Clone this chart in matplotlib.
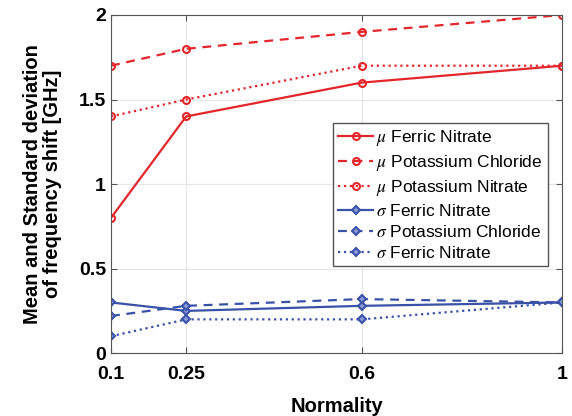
import matplotlib
matplotlib.use("Agg")
import matplotlib.pyplot as plt

plt.rcParams['font.family'] = ['Liberation Sans', 'DejaVu Sans']
plt.rcParams['mathtext.fontset'] = 'stix'

normality = [0.1, 0.25, 0.6, 1]

# mean values
mu_ferric = [0.8, 1.4, 1.6, 1.7]
mu_kcl = [1.7, 1.8, 1.9, 2.0]
mu_kno3 = [1.4, 1.5, 1.7, 1.7]

# standard deviations
sd_ferric = [0.3, 0.25, 0.28, 0.3]
sd_kcl = [0.22, 0.28, 0.32, 0.3]
sd_kno3 = [0.1, 0.2, 0.2, 0.3]

labels = [r"$\mu$ Ferric Nitrate", r"$\mu$ Potassium Chloride", r"$\mu$ Potassium Nitrate",
          r"$\sigma$ Ferric Nitrate", r"$\sigma$ Potassium Chloride", r"$\sigma$ Ferric Nitrate"]

RED = "#e3262b"
BLUE = "#3a51a8"

fig = plt.figure(figsize=(5.72, 4.16), dpi=100)
ax = fig.add_axes([0.194, 0.151, 0.789, 0.813])

styles = ['-', (0, (4, 3)), ':']
for ys, ls, lab in zip([mu_ferric, mu_kcl, mu_kno3], styles, labels[:3]):
    ax.plot(normality, ys, color=RED, ls=ls, lw=1.6, marker='o', ms=5,
            mfc='none', mec=RED, mew=1.5, label=lab)
for ys, ls, lab in zip([sd_ferric, sd_kcl, sd_kno3], styles, labels[3:]):
    ax.plot(normality, ys, color=BLUE, ls=ls, lw=1.6, marker='D', ms=4.5,
            mfc='#8a9ad6', mec=BLUE, mew=1.5, label=lab)

ax.set_xlim(0.1, 1)
ax.set_ylim(0, 2)
ax.set_xticks(normality)
ax.set_xticklabels(['0.1', '0.25', '0.6', '1'])
ax.set_yticks([0, 0.5, 1, 1.5, 2])
ax.set_yticklabels(['0', '0.5', '1', '1.5', '2'])
ax.grid(True, color='#e6e6e6', lw=0.8)
ax.set_axisbelow(True)
ax.tick_params(labelsize=14, direction='in', length=4, color='#555555',
               top=True, right=True)
ax.tick_params(axis='x', pad=9)
for t in ax.get_xticklabels() + ax.get_yticklabels():
    t.set_fontweight('bold')
for s in ax.spines.values():
    s.set_color('#555555')

ax.set_xlabel("Normality", fontsize=14.5, fontweight='bold', labelpad=10)
ax.set_ylabel("Mean and Standard deviation\nof frequency shift [GHz]", fontsize=14.5,
              fontweight='bold', linespacing=1.05, labelpad=12)

leg = ax.legend(loc='upper left', bbox_to_anchor=(0.492, 0.68), fontsize=12.5,
                handlelength=2.0, handletextpad=0.2, labelspacing=0.28,
                borderpad=0.3, borderaxespad=0, fancybox=False, framealpha=1)
leg.get_frame().set_edgecolor('#555555')

fig.savefig("out.png", dpi=100)
